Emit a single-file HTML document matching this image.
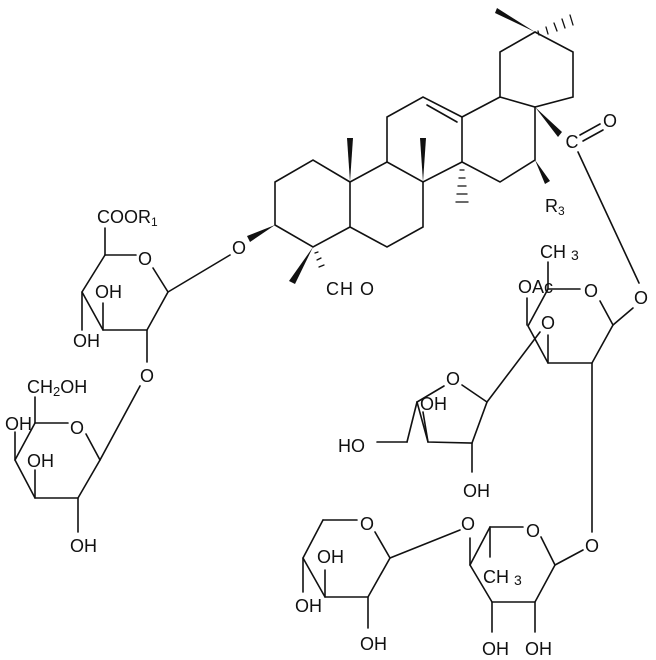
<!DOCTYPE html>
<html><head><style>
html,body{margin:0;padding:0;background:#fff;}
svg{display:block;}
text{font-family:"Liberation Sans",sans-serif;font-size:18px;fill:#111;}
</style></head><body>
<svg width="656" height="660" viewBox="0 0 656 660" xmlns="http://www.w3.org/2000/svg">
<g stroke="#111" stroke-width="1.6" fill="none" stroke-linecap="round">
<!-- Ring E -->
<polyline points="535,32 573,52 573,97 535,107 500,97 500,52 535,32"/>
<!-- Ring D -->
<polyline points="462,117 500,97"/>
<polyline points="535,107 535,160 500,182 462,162 462,117"/>
<!-- Ring C -->
<polyline points="462,117 423,97 387,117 387,162 423,182 462,162"/>
<line x1="427" y1="105" x2="457" y2="122"/>
<!-- Ring B -->
<polyline points="423,182 423,227 387,247 350,227 350,182 387,162"/>
<!-- Ring A -->
<polyline points="350,182 313,160 275,182 275,225 313,247 350,227"/>
<!-- ester -->
<line x1="578" y1="152" x2="639" y2="283"/>
<line x1="580" y1="135" x2="600" y2="124"/>
<line x1="583" y1="141" x2="603" y2="130"/>
<!-- glucuronic acid -->
<line x1="105" y1="228" x2="105" y2="255"/>
<polyline points="105,255 136,255"/>
<polyline points="153,268 168,292 147,330 103,330 82,292 105,255"/>
<line x1="168" y1="292" x2="230" y2="255"/>
<line x1="82" y1="292" x2="82" y2="330"/>
<line x1="103" y1="330" x2="103" y2="303"/>
<line x1="147" y1="330" x2="147" y2="362"/>
<line x1="140" y1="386" x2="100" y2="460"/>
<!-- galactose -->
<line x1="35" y1="397" x2="35" y2="423"/>
<polyline points="35,423 68,423"/>
<polyline points="86,434 100,460 78,498 35,498 15,460 35,423"/>
<line x1="15" y1="460" x2="15" y2="432"/>
<line x1="35" y1="498" x2="35" y2="470"/>
<line x1="78" y1="498" x2="78" y2="532"/>
<!-- top-right sugar -->
<line x1="548" y1="262" x2="548" y2="289"/>
<line x1="548" y1="289" x2="580" y2="289"/>
<polyline points="548,289 528,326 548,363 592,363 613,325 600,301"/>
<line x1="527" y1="298" x2="527" y2="325"/>
<line x1="548" y1="335" x2="548" y2="363"/>
<line x1="613" y1="325" x2="633" y2="308"/>
<line x1="592" y1="363" x2="592" y2="532"/>
<line x1="540" y1="332" x2="487" y2="402"/>
<!-- furanose -->
<polyline points="462,385 487,402 472,443 428,442 417,402 444,386"/>
<line x1="417" y1="402" x2="407" y2="442"/>
<line x1="407" y1="442" x2="377" y2="442"/>
<line x1="428" y1="442" x2="423" y2="412"/>
<line x1="472" y1="443" x2="472" y2="472"/>
<!-- lower right ring -->
<polyline points="490,527 523,527"/>
<polyline points="541,537 555,565 535,602 492,602 470,565 490,527"/>
<line x1="490" y1="527" x2="490" y2="557"/>
<line x1="555" y1="565" x2="583" y2="550"/>
<line x1="470" y1="565" x2="470" y2="538"/>
<line x1="460" y1="530" x2="390" y2="558"/>
<line x1="492" y1="602" x2="492" y2="632"/>
<line x1="535" y1="602" x2="535" y2="632"/>
<!-- xylose -->
<polyline points="323,520 357,520"/>
<polyline points="375,532 390,558 368,597 325,597 303,558 323,520"/>
<line x1="303" y1="558" x2="303" y2="592"/>
<line x1="325" y1="597" x2="325" y2="570"/>
<line x1="368" y1="597" x2="368" y2="628"/>
<!-- hashed bonds -->
<g stroke-width="1.3">
<line x1="538" y1="31" x2="539" y2="35"/><line x1="546" y1="27" x2="548" y2="34"/><line x1="554" y1="23" x2="557" y2="31"/><line x1="562" y1="19" x2="565" y2="28"/><line x1="570" y1="15" x2="573" y2="25"/>
<line x1="460" y1="170" x2="464" y2="170"/><line x1="459" y1="178" x2="465" y2="178"/><line x1="458" y1="186" x2="466" y2="186"/><line x1="457" y1="194" x2="467" y2="194"/><line x1="456" y1="202" x2="468" y2="202"/>
<line x1="315" y1="253" x2="318" y2="252"/><line x1="317" y1="260" x2="321" y2="258"/><line x1="319" y1="267" x2="324" y2="265"/>
</g>
</g>
<!-- wedges -->
<g fill="#111">
<polygon points="535,32 497,8 495,13"/>
<polygon points="350,182 347,138 353,138"/>
<polygon points="423,182 420,138 426,138"/>
<polygon points="275,225 247,236 250,242"/>
<polygon points="313,247 289,281 295,284"/>
<polygon points="535,107 562,132 558,137"/>
<polygon points="535,160 545,184 550,181"/>
</g>
<!-- labels -->
<text x="97" y="223">COOR<tspan font-size="12" dy="3">1</tspan></text>
<text x="239" y="254" text-anchor="middle">O</text>
<text x="326" y="295" letter-spacing="1">CH O</text>
<text x="572" y="148" text-anchor="middle">C</text>
<text x="610" y="127" text-anchor="middle">O</text>
<text x="545" y="212">R<tspan font-size="12" dy="3">3</tspan></text>
<text x="540" y="258">CH <tspan font-size="14" dy="2">3</tspan></text>
<text x="518" y="293">OAc</text>
<text x="591" y="297" text-anchor="middle">O</text>
<text x="641" y="304" text-anchor="middle">O</text>
<text x="548" y="329" text-anchor="middle">O</text>
<text x="453" y="385" text-anchor="middle">O</text>
<text x="420" y="410">OH</text>
<text x="338" y="452">HO</text>
<text x="463" y="497">OH</text>
<text x="533" y="537" text-anchor="middle">O</text>
<text x="592" y="552" text-anchor="middle">O</text>
<text x="468" y="530" text-anchor="middle">O</text>
<text x="483" y="583">CH <tspan font-size="14" dy="2">3</tspan></text>
<text x="482" y="655">OH</text>
<text x="525" y="655">OH</text>
<text x="367" y="530" text-anchor="middle">O</text>
<text x="317" y="563">OH</text>
<text x="295" y="612">OH</text>
<text x="360" y="650">OH</text>
<text x="145" y="265" text-anchor="middle">O</text>
<text x="95" y="298">OH</text>
<text x="73" y="347">OH</text>
<text x="147" y="382" text-anchor="middle">O</text>
<text x="27" y="393">CH<tspan font-size="13" dy="3">2</tspan><tspan dy="-3">OH</tspan></text>
<text x="5" y="430">OH</text>
<text x="77" y="434" text-anchor="middle">O</text>
<text x="27" y="467">OH</text>
<text x="70" y="552">OH</text>
</svg>
</body></html>
